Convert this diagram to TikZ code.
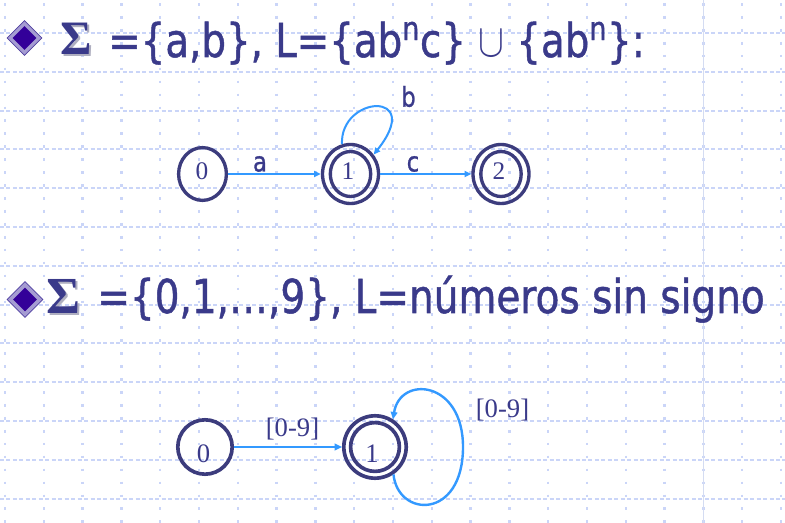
\RequirePackage{fix-cm}
\documentclass[tikz,border=0pt]{standalone}
\usepackage{graphicx}
\usepackage{fontspec}
\setmainfont{DejaVu Sans}
\newfontfamily\titlefont{DejaVu Sans}[FakeBold=1.1]
\newfontfamily\serifx{Liberation Serif}
\usetikzlibrary{arrows.meta,shapes.geometric}
\definecolor{textc}{RGB}{58,58,138}
\definecolor{statec}{RGB}{60,60,125}
\definecolor{edgec}{RGB}{51,153,255}
\definecolor{gridc}{RGB}{202,213,248}
\definecolor{gridc2}{RGB}{212,220,242}
\definecolor{shadowc}{RGB}{175,175,192}
\definecolor{bulletouter}{RGB}{165,156,210}
\definecolor{bulletedge}{RGB}{80,64,160}
\definecolor{bulletinner}{RGB}{51,0,153}
\begin{document}
\begin{tikzpicture}[x=0.75pt,y=-0.75pt,
  gridv/.style={draw=gridc, line width=1.7pt, dash pattern=on 2pt off 7.7pt},
  gridh/.style={draw=gridc, line width=1.5pt, dash pattern=on 3pt off 1.85pt},
  state/.style={ellipse, draw=statec, line width=2.5pt, inner sep=0pt},
  state2/.style={circle, draw=statec, line width=2.75pt, inner sep=0pt},
  title/.style={text=textc, font=\titlefont\fontsize{35pt}{40pt}\selectfont, inner sep=0pt, anchor=base west},
  lab/.style={text=textc, font=\titlefont\fontsize{20.5pt}{24pt}\selectfont, inner sep=0pt},
  digit/.style={text=textc, font=\serifx\fontsize{19pt}{22pt}\selectfont, inner sep=0pt},
  digitb/.style={text=textc, font=\serifx\fontsize{20pt}{24pt}\selectfont, inner sep=0pt},
  sig/.style={text=textc, font=\serifx\bfseries\fontsize{36pt}{40pt}\selectfont, inner sep=0pt},
  sigsh/.style={sig, text=shadowc},
  bout/.style={diamond, fill=bulletouter, draw=bulletedge, line width=0.6pt, inner sep=0pt},
  bin/.style={diamond, fill=bulletinner, inner sep=0pt, minimum width=18pt, minimum height=18pt},
  edge/.style={draw=edgec, line width=1.5pt, -{Triangle[length=5pt,width=4.5pt]}},
  edgeb/.style={draw=edgec, line width=1.8pt, -{Triangle[length=5.5pt,width=5pt]}}
]
\fill[white] (0,0) rectangle (785,523);
\useasboundingbox (0,0) rectangle (785,523);
% background grid
\foreach \j in {0,...,12} \draw[gridh] (0,{33.1+38.8*\j}) -- (785,{33.1+38.8*\j});
\foreach \i in {0,...,20} \draw[gridv] ({5+38.8*\i},3.05) -- ({5+38.8*\i},523);
\draw[draw=gridc2, line width=0.6pt] (703,0) -- (703,523);

% bullets
\node[bout, minimum width=26.25pt, minimum height=26.25pt] (d1) at (24.5,38) {};
\node[bin] (d1i) at (d1) {};
\node[bout, minimum width=27pt, minimum height=27pt] (d2) at (25,299.5) {};
\node[bin] (d2i) at (d2) {};

% sigma
\node[sigsh] (s1s) at (78.5,40.5) {Σ};
\node[sig] (s1) at (76.5,38.5) {Σ};
\node[sigsh, font=\serifx\bfseries\fontsize{39pt}{42pt}\selectfont] (s2s) at (65.5,298.5) {Σ};
\node[sig, font=\serifx\bfseries\fontsize{39pt}{42pt}\selectfont] (s2) at (63.5,296.5) {Σ};

% titles
\node[title] (t1) at (108,57) {\scalebox{0.83}[1]{=\{a,b\}, L=\{ab\textsuperscript{n}c\} $\cup$ \{ab\textsuperscript{n}\}:}};
\node[title] (t2) at (97,313) {\scalebox{0.835}[1]{=\{0,1,…,9\}, L=números sin signo}};

% automaton 1
\node[state, minimum width=35.85pt, minimum height=39.6pt] (a0) at (202.5,174) {};
\node[state, minimum width=42pt, minimum height=44.25pt] (a1) at (350.5,174) {};
\node[state, minimum width=30.3pt, minimum height=33.75pt] (a1i) at (a1) {};
\node[state, minimum width=42pt, minimum height=44.25pt] (a2) at (501,174) {};
\node[state, minimum width=30.3pt, minimum height=33.75pt] (a2i) at (a2) {};
\node[digit] (a0t) at (202,171.5) {0};
\node[digit] (a1t) at (348,171.5) {1};
\node[digit] (a2t) at (499,171.5) {2};
\draw[edge] (a0) -- (a1);
\draw[edge] (a1) -- (a2);
\draw[edge] (a1.106) .. controls (340,95) and (425,90) .. (a1.40);
\node[lab] (la) at (260,164) {\scalebox{0.83}[1]{a}};
\node[lab] (lc) at (413,164) {\scalebox{0.83}[1]{c}};
\node[lab] (lb) at (408.5,96.5) {\scalebox{0.83}[1]{b}};

% automaton 2
\node[state2, minimum size=40.8pt] (b0) at (205,447) {};
\node[state2, minimum size=46.8pt] (b1) at (375,447) {};
\node[state2, minimum size=36.6pt] (b1i) at (b1) {};
\node[digitb] (b0t) at (203.5,454) {0};
\node[digitb] (b1t) at (372,454) {1};
\draw[edgeb] (b0) -- (b1);
\coordinate (lp) at (463,447);
\draw[edgeb] (b1.-56) .. controls (398,518) and (463,520) .. (lp) .. controls (463,380) and (400,375) .. (b1.57);
\node[digitb] (l09a) at (292.5,429.5) {[0-9]};
\node[digitb] (l09b) at (502.5,410.5) {[0-9]};
\end{tikzpicture}
\end{document}
